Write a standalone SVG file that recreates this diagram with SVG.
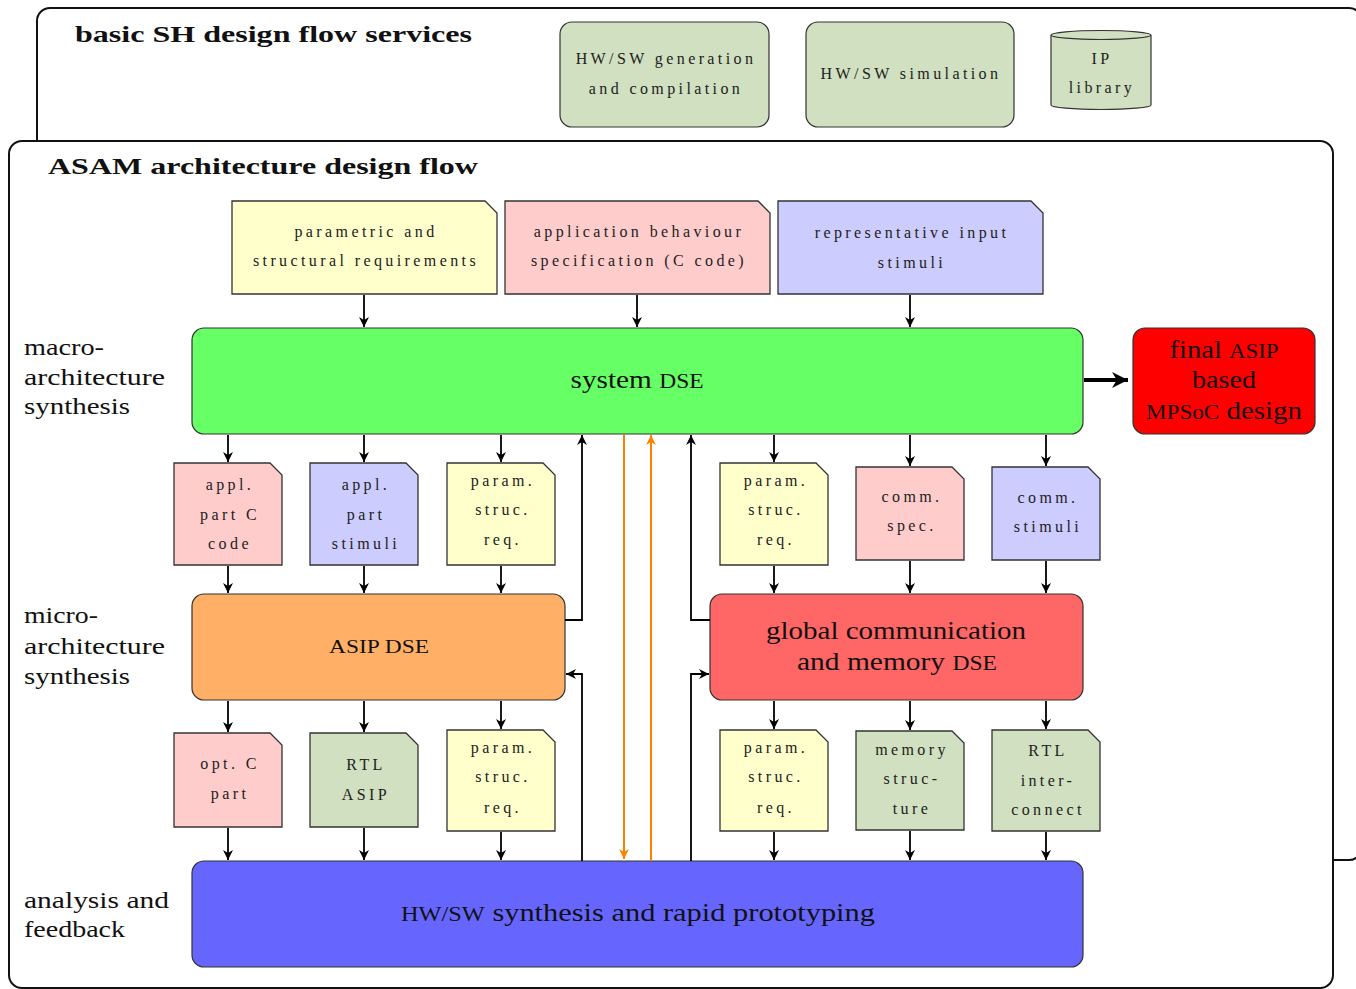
<svg xmlns="http://www.w3.org/2000/svg" width="1356" height="989" viewBox="0 0 1356 989">
<defs>
<marker id="ah" viewBox="0 0 10 10" refX="10" refY="5" markerUnits="userSpaceOnUse" markerWidth="12" markerHeight="10" orient="auto">
<path d="M0,0 L10,5 L0,10 L3,5 Z" fill="#000"/>
</marker>
<marker id="aho" viewBox="0 0 10 10" refX="10" refY="5" markerUnits="userSpaceOnUse" markerWidth="12" markerHeight="10" orient="auto">
<path d="M0,0 L10,5 L0,10 L3,5 Z" fill="#ff8000"/>
</marker>
<marker id="ahb" viewBox="0 0 10 10" refX="10" refY="5" markerUnits="userSpaceOnUse" markerWidth="20" markerHeight="16" orient="auto">
<path d="M0,0 L10,5 L0,10 L3,5 Z" fill="#000"/>
</marker>
<style>
.frame{fill:#fff;stroke:#111;stroke-width:2}
.title{font-family:"Liberation Serif",serif;font-weight:bold;font-size:23px;fill:#111}
.lab{font-family:"Liberation Serif",serif;font-size:24px;fill:#111}
.big{font-family:"Liberation Serif",serif;font-size:25px;fill:#111;text-anchor:middle}
.sm{font-family:"Liberation Serif",serif;font-size:16px;fill:#222;text-anchor:middle;letter-spacing:3.4px}
.box{stroke:#333;stroke-width:1.2}
.doc{stroke:#333;stroke-width:1.3}
.c{fill:none;stroke:#000;stroke-width:1.8;marker-end:url(#ah)}
.co{fill:none;stroke:#ff8000;stroke-width:2;marker-end:url(#aho)}
</style>
</defs>

<g id="services-frame">
<rect class="frame" x="37" y="8" width="1325" height="852" rx="13"/>
<text class="title" x="75" y="42" textLength="397" lengthAdjust="spacingAndGlyphs">basic SH design flow services</text>
</g>
<g id="hwsw-gen">
<rect class="box" x="560" y="22" width="209" height="105" rx="12" fill="#d0e0c0"/>
<text class="sm" x="666" y="64">HW/SW generation</text>
<text class="sm" x="666" y="94">and compilation</text>
</g>
<g id="hwsw-sim">
<rect class="box" x="806" y="22" width="208" height="105" rx="12" fill="#d0e0c0"/>
<text class="sm" x="911" y="79">HW/SW simulation</text>
</g>
<g id="ip-library">
<path class="box" d="M1051,35 V105 A50,4.5 0 0 0 1151,105 V35" fill="#d0e0c0"/>
<ellipse class="box" cx="1101" cy="35" rx="50" ry="4.5" fill="#d0e0c0"/>
<text class="sm" x="1102" y="64">IP</text>
<text class="sm" x="1102" y="93">library</text>
</g>

<g id="asam-frame">
<rect class="frame" x="9" y="141" width="1324" height="847" rx="13"/>
<text class="title" x="48" y="174" textLength="430" lengthAdjust="spacingAndGlyphs">ASAM architecture design flow</text>
</g>

<g id="row-labels">
<text class="lab" x="24" y="355" textLength="80" lengthAdjust="spacingAndGlyphs">macro-</text>
<text class="lab" x="24" y="385" textLength="141" lengthAdjust="spacingAndGlyphs">architecture</text>
<text class="lab" x="24" y="414" textLength="106" lengthAdjust="spacingAndGlyphs">synthesis</text>
<text class="lab" x="24" y="623" textLength="74" lengthAdjust="spacingAndGlyphs">micro-</text>
<text class="lab" x="24" y="654" textLength="141" lengthAdjust="spacingAndGlyphs">architecture</text>
<text class="lab" x="24" y="684" textLength="106" lengthAdjust="spacingAndGlyphs">synthesis</text>
<text class="lab" x="24" y="908" textLength="145" lengthAdjust="spacingAndGlyphs">analysis and</text>
<text class="lab" x="24" y="937" textLength="101" lengthAdjust="spacingAndGlyphs">feedback</text>
</g>

<g id="doc-param-req">
<path class="doc" d="M232,201 H485 L497,213 V294 H232 Z" fill="#ffffcc"/>
<text class="sm" x="366" y="237">parametric and</text>
<text class="sm" x="366" y="266">structural requirements</text>
</g>
<g id="doc-app-spec">
<path class="doc" d="M505,201 H758 L770,213 V294 H505 Z" fill="#ffcccc"/>
<text class="sm" x="639" y="237">application behaviour</text>
<text class="sm" x="639" y="266">specification (C code)</text>
</g>
<g id="doc-input-stimuli">
<path class="doc" d="M778,201 H1031 L1043,213 V294 H778 Z" fill="#ccccff"/>
<text class="sm" x="912" y="238">representative input</text>
<text class="sm" x="912" y="268">stimuli</text>
</g>

<g id="system-dse">
<rect class="box" x="192" y="328" width="891" height="106" rx="12" fill="#66ff66"/>
<text class="big" x="637" y="388" textLength="133" lengthAdjust="spacingAndGlyphs">system <tspan font-size="20">DSE</tspan></text>
</g>
<g id="final-design">
<rect class="box" x="1133" y="328" width="182" height="106" rx="12" fill="#ff0000"/>
<text class="big" x="1224" y="358" textLength="109" lengthAdjust="spacingAndGlyphs">final <tspan font-size="20">ASIP</tspan></text>
<text class="big" x="1224" y="388" textLength="64" lengthAdjust="spacingAndGlyphs">based</text>
<text class="big" x="1224" y="419" textLength="156" lengthAdjust="spacingAndGlyphs"><tspan font-size="20">MPS</tspan><tspan font-size="20">o</tspan><tspan font-size="20">C</tspan> design</text>
</g>

<g id="doc-appl-c">
<path class="doc" d="M174,463 H270 L282,475 V565 H174 Z" fill="#ffcccc"/>
<text class="sm" x="230" y="490">appl.</text>
<text class="sm" x="230" y="520">part C</text>
<text class="sm" x="230" y="549">code</text>
</g>
<g id="doc-appl-stimuli">
<path class="doc" d="M310,463 H406 L418,475 V565 H310 Z" fill="#ccccff"/>
<text class="sm" x="366" y="490">appl.</text>
<text class="sm" x="366" y="520">part</text>
<text class="sm" x="366" y="549">stimuli</text>
</g>
<g id="doc-param-1">
<path class="doc" d="M447,463 H543 L555,475 V565 H447 Z" fill="#ffffcc"/>
<text class="sm" x="503" y="486">param.</text>
<text class="sm" x="503" y="515">struc.</text>
<text class="sm" x="503" y="545">req.</text>
</g>
<g id="doc-param-2">
<path class="doc" d="M720,463 H816 L828,475 V565 H720 Z" fill="#ffffcc"/>
<text class="sm" x="776" y="486">param.</text>
<text class="sm" x="776" y="515">struc.</text>
<text class="sm" x="776" y="545">req.</text>
</g>
<g id="doc-comm-spec">
<path class="doc" d="M856,467 H952 L964,479 V560 H856 Z" fill="#ffcccc"/>
<text class="sm" x="912" y="502">comm.</text>
<text class="sm" x="912" y="531">spec.</text>
</g>
<g id="doc-comm-stimuli">
<path class="doc" d="M992,467 H1088 L1100,479 V560 H992 Z" fill="#ccccff"/>
<text class="sm" x="1048" y="503">comm.</text>
<text class="sm" x="1048" y="532">stimuli</text>
</g>

<g id="asip-dse">
<rect class="box" x="192" y="594" width="373" height="106" rx="12" fill="#ffb066"/>
<text class="big" x="379" y="653" style="font-size:19px" textLength="100" lengthAdjust="spacingAndGlyphs">ASIP DSE</text>
</g>
<g id="global-dse">
<rect class="box" x="710" y="594" width="373" height="106" rx="12" fill="#ff6666"/>
<text class="big" x="896" y="639" textLength="260" lengthAdjust="spacingAndGlyphs">global communication</text>
<text class="big" x="897" y="670" textLength="200" lengthAdjust="spacingAndGlyphs">and memory <tspan font-size="20">DSE</tspan></text>
</g>

<g id="doc-opt-c">
<path class="doc" d="M174,733 H270 L282,745 V827 H174 Z" fill="#ffcccc"/>
<text class="sm" x="230" y="769">opt. C</text>
<text class="sm" x="230" y="799">part</text>
</g>
<g id="doc-rtl-asip">
<path class="doc" d="M310,733 H406 L418,745 V827 H310 Z" fill="#d0e0c0"/>
<text class="sm" x="366" y="770">RTL</text>
<text class="sm" x="366" y="800">ASIP</text>
</g>
<g id="doc-param-3">
<path class="doc" d="M447,730 H543 L555,742 V831 H447 Z" fill="#ffffcc"/>
<text class="sm" x="503" y="753">param.</text>
<text class="sm" x="503" y="782">struc.</text>
<text class="sm" x="503" y="813">req.</text>
</g>
<g id="doc-param-4">
<path class="doc" d="M720,730 H816 L828,742 V831 H720 Z" fill="#ffffcc"/>
<text class="sm" x="776" y="753">param.</text>
<text class="sm" x="776" y="782">struc.</text>
<text class="sm" x="776" y="813">req.</text>
</g>
<g id="doc-memory">
<path class="doc" d="M856,731 H952 L964,743 V830 H856 Z" fill="#d0e0c0"/>
<text class="sm" x="912" y="755">memory</text>
<text class="sm" x="912" y="784">struc-</text>
<text class="sm" x="912" y="814">ture</text>
</g>
<g id="doc-rtl-interconnect">
<path class="doc" d="M992,730 H1088 L1100,742 V831 H992 Z" fill="#d0e0c0"/>
<text class="sm" x="1048" y="756">RTL</text>
<text class="sm" x="1048" y="786">inter-</text>
<text class="sm" x="1048" y="815">connect</text>
</g>

<g id="hwsw-synthesis">
<rect class="box" x="192" y="861" width="891" height="106" rx="12" fill="#6666ff"/>
<text class="big" x="638" y="921" textLength="474" lengthAdjust="spacingAndGlyphs"><tspan font-size="20">HW/SW</tspan> synthesis and rapid prototyping</text>
</g>

<g id="connectors">
<path class="c" d="M364,295 V327"/>
<path class="c" d="M637,295 V327"/>
<path class="c" d="M910,295 V327"/>
<path class="c" d="M228,435 V462"/>
<path class="c" d="M364,435 V462"/>
<path class="c" d="M501,435 V462"/>
<path class="c" d="M774,435 V462"/>
<path class="c" d="M910,435 V466"/>
<path class="c" d="M1046,435 V466"/>
<path class="c" d="M228,566 V593"/>
<path class="c" d="M364,566 V593"/>
<path class="c" d="M501,566 V593"/>
<path class="c" d="M774,566 V593"/>
<path class="c" d="M910,561 V593"/>
<path class="c" d="M1046,561 V593"/>
<path class="c" d="M228,701 V732"/>
<path class="c" d="M364,701 V732"/>
<path class="c" d="M501,701 V729"/>
<path class="c" d="M774,701 V729"/>
<path class="c" d="M910,701 V730"/>
<path class="c" d="M1046,701 V729"/>
<path class="c" d="M228,828 V860"/>
<path class="c" d="M364,828 V860"/>
<path class="c" d="M501,832 V860"/>
<path class="c" d="M774,832 V860"/>
<path class="c" d="M910,831 V860"/>
<path class="c" d="M1046,832 V860"/>
<path class="c" d="M565,620 H582 V435"/>
<path class="c" d="M710,620 H691 V435"/>
<path class="c" d="M582,861 V674 H566"/>
<path class="c" d="M691,861 V674 H709"/>
<path class="co" d="M624,435 V859"/>
<path class="co" d="M651,861 V435"/>
<path d="M1084,380 H1128" fill="none" stroke="#000" stroke-width="4" marker-end="url(#ahb)"/>
</g>
</svg>
